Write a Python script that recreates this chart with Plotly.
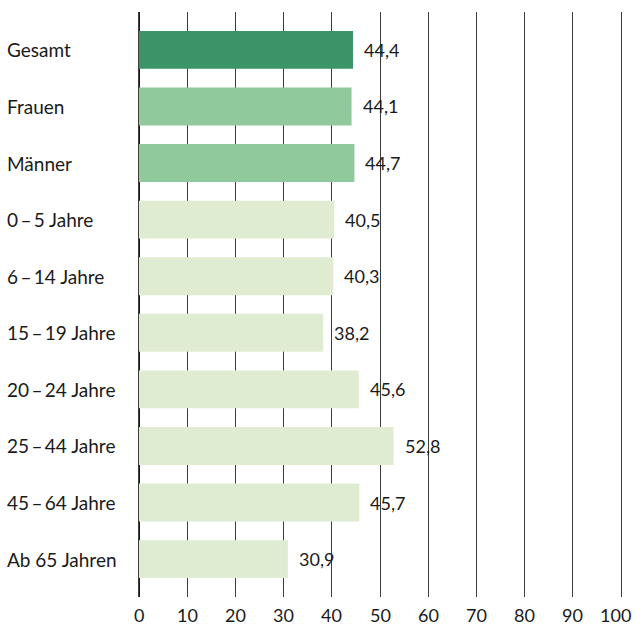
import plotly.graph_objects as go

# --- data ---
categories = ["Gesamt", "Frauen", "Männer", "0\u2009–\u20095 Jahre", "6\u2009–\u200914 Jahre",
              "15\u2009–\u200919 Jahre", "20\u2009–\u200924 Jahre", "25\u2009–\u200944 Jahre",
              "45\u2009–\u200964 Jahre", "Ab 65 Jahren"]
values = [44.4, 44.1, 44.7, 40.5, 40.3, 38.2, 45.6, 52.8, 45.7, 30.9]
groups = ["total", "sex", "sex", "age", "age", "age", "age", "age", "age", "age"]
x_ticks = [0, 10, 20, 30, 40, 50, 60, 70, 80, 90, 100]

group_colors = {"total": "#3a9468", "sex": "#90c99b", "age": "#e0ecd2"}
font_family = "Lato, 'Open Sans', sans-serif"
text_color = "#1a1a1a"
grid_color = "#3c3c3c"

fig = go.Figure()
fig.add_trace(go.Bar(
    x=values, y=categories, orientation="h",
    marker=dict(color=[group_colors[g] for g in groups], line=dict(width=0)),
    width=0.67, hoverinfo="x+y",
))

# value labels right of the bars (decimal comma)
for cat, v in zip(categories, values):
    fig.add_annotation(x=v, y=cat, xref="x", yref="y", text=f"{v:.1f}".replace(".", ","),
                       showarrow=False, xanchor="left", xshift=9,
                       font=dict(size=18, color=text_color, family=font_family))

# category labels, left aligned
for cat in categories:
    fig.add_annotation(x=0, y=cat, xref="paper", yref="y", text=cat,
                       showarrow=False, xanchor="left", xshift=-134,
                       font=dict(size=19, color=text_color, family=font_family))

# x tick labels as annotations so the last one can be pulled inside the page
for t in x_ticks:
    last = t == x_ticks[-1]
    fig.add_annotation(x=t, y=0, xref="x", yref="paper", text=str(t),
                       showarrow=False, yanchor="top", yshift=-5,
                       xanchor="right" if last else "center", xshift=12 if last else 0,
                       font=dict(size=18, color=text_color, family=font_family))

fig.update_layout(
    width=635, height=626,
    margin=dict(l=139, r=14, t=12, b=29),
    plot_bgcolor="white", paper_bgcolor="white",
    showlegend=False,
    font=dict(family=font_family, size=18, color=text_color),
)
fig.update_xaxes(range=[0, 100], tickvals=x_ticks, showgrid=True, gridcolor=grid_color,
                 gridwidth=1.2, zeroline=True, zerolinecolor="#1a1a1a", zerolinewidth=1.5,
                 showline=False, ticks="", showticklabels=False)
# mirrored y-axis line gives the gridline at the right edge (100)
fig.update_yaxes(range=[9.67, -0.67], showticklabels=False, showgrid=False,
                 zeroline=False, ticks="", showline=True, mirror=True,
                 linecolor=grid_color, linewidth=1.2)

# drop the default body margin so the figure fills the window exactly
fig.write_html("out.html", config={"displayModeBar": False},
               post_script="document.body.style.margin='0';")
